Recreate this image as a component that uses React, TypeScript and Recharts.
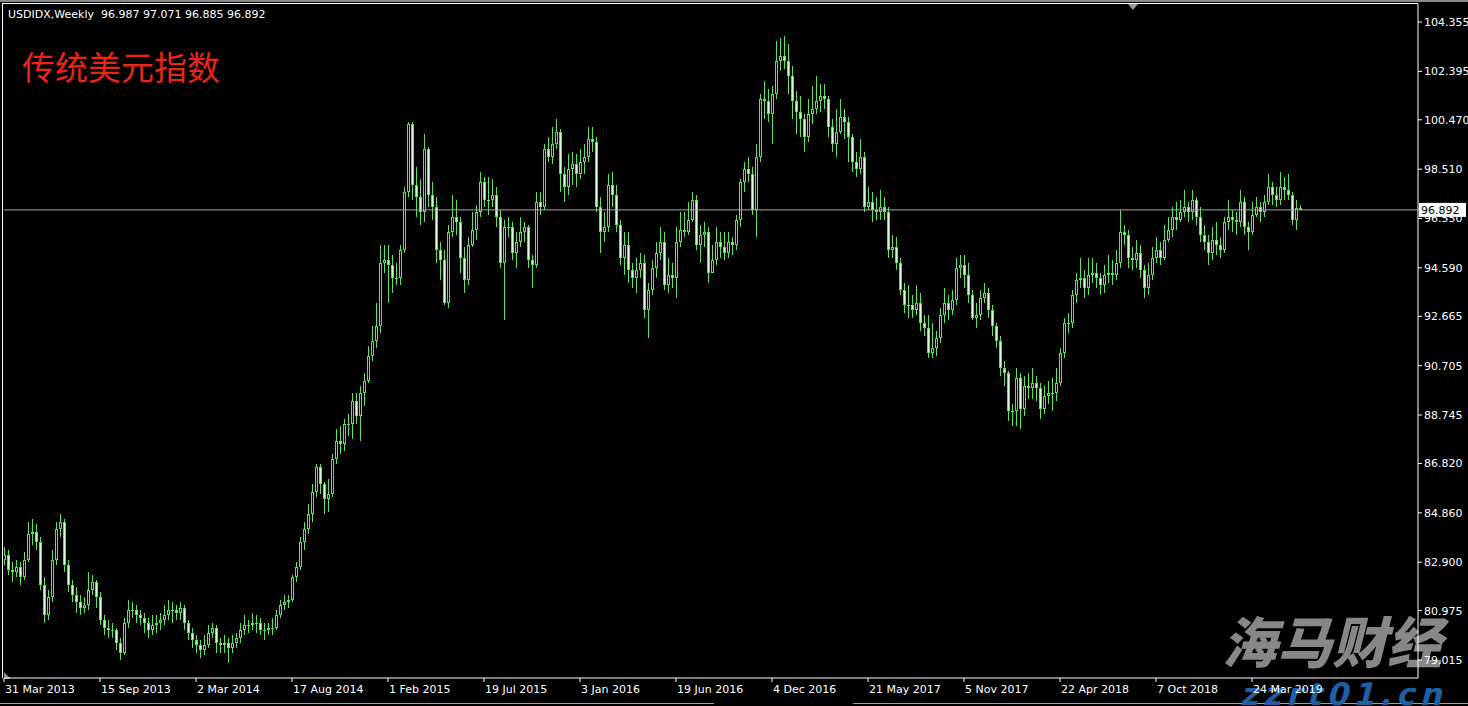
import { Bar, ComposedChart, ReferenceLine, XAxis, YAxis } from "recharts";

// weekly USDIDX candles, 31 Mar 2013 .. Jun 2019
const firstOpen = 83.0;

const closes = [
  83.2, 82.6, 82.5, 82.7, 82.3, 83.0, 84.0, 84.1, 83.7, 82.0,
  80.8, 81.5, 83.0, 84.2, 84.5, 82.8, 82.0, 81.6, 81.3, 81.1,
  81.2, 81.8, 82.1, 81.5, 80.6, 80.3, 80.2, 80.2, 79.7, 79.3,
  80.5, 81.0, 81.0, 80.8, 80.7, 80.5, 80.2, 80.4, 80.5, 80.6,
  80.8, 81.0, 81.0, 80.9, 81.1, 80.5, 80.1, 79.8, 79.6, 79.4,
  79.6, 80.1, 80.3, 79.7, 79.6, 79.7, 79.5, 79.7, 79.9, 80.2,
  80.4, 80.4, 80.5, 80.5, 80.2, 80.2, 80.3, 80.3, 80.8, 81.2,
  81.3, 81.4, 82.3, 82.7, 83.7, 84.2, 84.8, 85.7, 86.7, 86.0,
  85.4, 85.6, 87.0, 87.7, 87.6, 88.4, 88.4, 89.3, 88.7, 89.6,
  90.1, 91.1, 91.7, 92.3, 94.8, 94.9, 94.7, 94.2, 94.2, 95.3,
  97.6, 100.3, 97.9, 97.4, 96.8, 99.3, 97.5, 97.0, 95.3, 94.9,
  93.2, 96.0, 96.6, 96.4, 95.0, 94.1, 95.5, 96.1, 96.8, 98.0,
  97.3, 97.3, 97.5, 96.6, 94.8, 96.2, 96.2, 95.2, 95.6, 96.0,
  96.2, 94.9, 94.7, 97.2, 97.0, 99.3, 99.0, 99.5, 100.0, 98.3,
  97.8, 98.5, 98.7, 98.3, 98.8, 99.0, 99.7, 99.6, 97.0, 96.0,
  96.2, 97.9, 97.5, 96.3, 95.0, 95.5, 94.5, 94.2, 94.5, 94.8,
  92.9, 93.7, 94.6, 95.2, 95.6, 93.9, 94.3, 94.2, 95.6, 96.1,
  96.0, 96.5, 97.3, 95.5, 95.9, 96.0, 94.4, 94.9, 95.6, 95.4,
  95.2, 95.6, 95.5, 96.5, 98.0, 98.5, 98.3, 96.9, 99.0, 101.3,
  101.2, 100.7, 101.5, 102.8, 103.0, 102.8, 102.2, 101.2, 100.8, 100.5,
  99.8, 100.7, 100.9, 101.2, 101.4, 101.3, 100.2, 99.5, 100.0, 100.6,
  100.4, 99.8, 98.8, 98.5, 99.0, 97.0, 97.2, 96.9, 96.8, 97.0,
  96.8, 95.3, 95.4, 94.8, 93.7, 93.1, 93.1, 92.9, 93.2, 92.4,
  92.2, 91.2, 91.4, 91.8, 92.7, 93.2, 92.9, 93.3, 94.6, 94.7,
  94.3, 93.5, 92.6, 92.7, 93.4, 93.6, 92.9, 92.3, 91.7, 90.6,
  90.4, 88.9, 88.9, 90.2, 89.0, 89.9, 89.8, 90.0, 89.8, 89.0,
  89.5, 89.6, 89.6, 90.0, 91.2, 92.4, 92.4, 93.5, 94.1, 94.2,
  93.8, 94.3, 94.4, 94.2, 93.9, 94.3, 94.4, 94.3, 94.8, 96.0,
  95.9, 95.0, 94.9, 95.2, 94.5, 93.8, 94.3, 95.0, 95.3, 95.0,
  95.7, 96.1, 96.6, 96.5, 96.8, 97.0, 96.8, 97.3, 96.6, 95.9,
  95.6, 95.2, 95.7, 95.5, 95.3, 96.4, 96.6, 96.5, 96.4, 97.2,
  96.2, 96.0, 96.7, 97.0, 96.8, 97.2, 97.8, 97.5, 97.3, 97.8,
  97.7, 97.5, 96.5, 96.987, 96.892,
];

const highs = [
  83.5, 83.4, 82.9, 83.0, 82.9, 83.3, 84.5, 84.6, 84.4, 83.9,
  82.3, 81.8, 83.4, 84.5, 84.8, 84.6, 83.0, 82.2, 81.9, 81.6,
  81.5, 82.5, 82.4, 82.2, 81.7, 80.8, 80.6, 80.5, 80.3, 79.9,
  80.7, 81.4, 81.3, 81.2, 81.0, 80.9, 80.7, 80.8, 80.8, 80.9,
  81.2, 81.4, 81.3, 81.2, 81.3, 81.2, 80.6, 80.3, 80.0, 79.8,
  80.0, 80.4, 80.5, 80.4, 79.9, 80.0, 79.9, 80.0, 80.1, 80.5,
  80.8, 80.6, 80.9, 80.8, 80.7, 80.5, 80.5, 80.7, 81.0, 81.4,
  81.6, 81.6, 82.4, 82.9, 83.9, 84.5, 85.2, 86.0, 86.8, 86.8,
  86.1, 86.2, 87.2, 88.2, 88.3, 88.6, 88.8, 89.6, 89.6, 89.9,
  90.4, 91.5, 92.3, 93.2, 95.5, 95.5, 95.5, 95.1, 94.8, 95.5,
  97.8, 100.4, 100.4, 98.6, 98.1, 99.9, 99.4, 98.0, 97.4, 95.6,
  95.3, 96.3, 97.5, 97.3, 96.6, 95.4, 95.8, 96.8, 97.1, 98.4,
  98.2, 98.2, 98.1, 97.8, 96.9, 96.5, 96.6, 96.4, 96.0, 96.6,
  96.4, 96.3, 95.1, 97.6, 97.6, 99.5, 99.8, 100.2, 100.5, 100.1,
  98.6, 99.1, 99.2, 99.1, 99.3, 99.5, 100.2, 100.2, 99.8, 97.4,
  96.8, 98.3, 98.4, 97.9, 96.5, 96.0, 96.0, 94.8, 95.0, 95.2,
  95.1, 94.0, 94.9, 95.6, 96.2, 96.0, 95.0, 94.8, 96.2, 96.8,
  96.8, 97.2, 97.6, 97.5, 96.3, 96.4, 96.2, 95.5, 96.2, 96.0,
  96.0, 96.0, 95.8, 96.7, 98.1, 98.8, 99.0, 98.6, 99.5, 101.5,
  102.0, 101.7, 101.8, 103.6, 103.7, 103.8, 103.5, 102.6, 101.6, 101.4,
  100.7, 101.3, 101.8, 102.2, 101.9, 101.9, 101.4, 100.5, 100.9, 101.3,
  100.9, 100.6, 99.9, 99.2, 99.7, 99.2, 97.8, 97.6, 97.4, 97.7,
  97.4, 97.0, 95.9, 95.8, 95.0, 94.0, 93.9, 93.5, 93.9, 93.6,
  92.7, 92.7, 92.4, 92.1, 93.0, 93.8, 93.5, 93.7, 95.0, 95.1,
  95.1, 94.8, 93.7, 93.2, 93.7, 94.0, 93.8, 93.1, 92.4, 91.9,
  90.9, 90.5, 89.2, 90.6, 90.4, 90.3, 90.4, 90.6, 90.3, 90.0,
  89.9, 90.1, 90.2, 90.6, 91.4, 92.6, 92.8, 93.7, 94.4, 95.0,
  94.5, 95.0, 95.0, 94.8, 94.4, 94.7, 95.1, 94.9, 95.3, 96.9,
  96.3, 96.1, 95.4, 95.7, 95.5, 94.7, 94.8, 95.4, 95.8, 95.6,
  96.3, 96.6, 97.0, 97.2, 97.3, 97.7, 97.2, 97.7, 97.4, 97.0,
  96.3, 95.9, 96.2, 96.4, 95.8, 96.6, 97.3, 96.9, 96.8, 97.7,
  97.4, 96.4, 97.2, 97.4, 97.2, 97.5, 98.3, 98.0, 97.8, 98.4,
  98.2, 98.3, 97.6, 97.3, 97.071,
];

const lows = [
  82.8, 82.4, 82.1, 82.3, 82.0, 82.2, 82.9, 83.6, 83.4, 81.8,
  80.5, 80.6, 81.3, 82.8, 83.9, 82.5, 81.7, 81.3, 80.9, 80.8,
  80.9, 81.0, 81.6, 81.1, 80.4, 80.0, 79.9, 79.9, 79.4, 79.0,
  79.2, 80.3, 80.7, 80.5, 80.4, 80.1, 79.9, 80.0, 80.1, 80.2,
  80.4, 80.6, 80.5, 80.6, 80.6, 80.2, 79.8, 79.5, 79.3, 79.1,
  79.2, 79.5, 79.9, 79.3, 79.3, 79.3, 78.9, 79.3, 79.5, 79.7,
  80.0, 80.1, 80.2, 80.1, 80.0, 79.8, 80.0, 80.0, 80.2, 80.7,
  81.0, 81.1, 81.3, 82.1, 82.6, 83.4, 84.0, 84.5, 85.5, 85.6,
  84.8, 84.9, 85.5, 86.8, 87.2, 87.3, 87.9, 87.8, 88.4, 87.7,
  89.1, 90.0, 90.9, 91.4, 92.0, 94.4, 93.2, 93.6, 93.9, 93.9,
  95.2, 97.4, 97.3, 96.6, 96.3, 96.4, 97.0, 96.5, 94.8, 94.1,
  93.1, 93.0, 95.8, 95.9, 94.4, 93.6, 93.9, 95.4, 95.7, 96.6,
  97.0, 96.7, 97.0, 96.2, 94.6, 92.5, 95.8, 94.9, 94.6, 95.4,
  95.6, 94.6, 93.8, 94.6, 96.7, 96.9, 98.8, 98.7, 99.3, 97.6,
  97.2, 97.5, 97.9, 97.8, 98.1, 98.3, 98.8, 99.2, 96.8, 95.2,
  95.6, 96.0, 97.0, 96.0, 94.7, 94.3, 94.0, 93.8, 93.6, 94.2,
  92.6, 91.8, 93.5, 94.2, 94.9, 93.7, 93.6, 93.8, 93.4, 95.4,
  95.8, 95.9, 96.4, 95.3, 94.8, 95.4, 94.0, 94.4, 94.7, 95.0,
  94.9, 95.0, 95.1, 95.3, 96.2, 97.6, 98.0, 96.7, 95.8, 98.8,
  100.5, 100.4, 99.5, 101.3, 102.4, 102.5, 101.5, 100.5, 99.9, 99.8,
  99.2, 99.6, 100.3, 100.7, 100.8, 100.9, 99.8, 99.2, 99.0, 99.9,
  99.7, 98.8, 98.4, 98.2, 98.3, 96.8, 96.9, 96.4, 96.5, 96.5,
  96.5, 95.0, 95.0, 94.5, 93.5, 92.8, 92.6, 92.6, 92.7, 92.1,
  91.9, 91.0, 91.0, 91.1, 91.6, 92.4, 92.5, 92.7, 93.1, 94.2,
  93.8, 93.2, 92.5, 92.2, 92.5, 93.2, 92.6, 91.9, 91.4, 90.3,
  89.9, 88.5, 88.3, 88.3, 88.2, 88.7, 89.4, 89.4, 89.3, 88.6,
  88.8, 89.2, 88.9, 89.3, 89.9, 91.0, 92.0, 92.2, 93.2, 93.8,
  93.4, 93.5, 94.0, 93.8, 93.5, 93.6, 94.0, 93.9, 94.1, 94.6,
  95.5, 94.6, 94.5, 94.6, 94.2, 93.4, 93.5, 94.1, 94.8, 94.7,
  94.9, 95.6, 95.8, 96.1, 96.4, 96.6, 96.4, 96.5, 96.3, 95.6,
  95.3, 94.7, 94.9, 95.1, 95.0, 95.2, 96.1, 96.0, 95.9, 96.2,
  95.9, 95.3, 95.9, 96.6, 96.4, 96.6, 97.1, 97.1, 97.0, 97.1,
  97.3, 97.3, 96.3, 96.1, 96.885,
];

// one date label every 24 weeks
const dateLabels = [
  "31 Mar 2013", "15 Sep 2013", "2 Mar 2014", "17 Aug 2014", "1 Feb 2015",
  "19 Jul 2015", "3 Jan 2016", "19 Jun 2016", "4 Dec 2016", "21 May 2017",
  "5 Nov 2017", "22 Apr 2018", "7 Oct 2018", "24 Mar 2019",
];
const dateTicks = dateLabels.map((_, k) => k * 24);

const priceTicks = [
  79.015, 80.975, 82.9, 84.86, 86.82, 88.745, 90.705, 92.665, 94.59, 96.55,
  98.51, 100.47, 102.395, 104.355,
];

const lastPrice = 96.892;
const header = "USDIDX,Weekly  96.987 97.071 96.885 96.892";

const data = closes.map((close, i) => ({
  i,
  open: i === 0 ? firstOpen : closes[i - 1],
  high: highs[i],
  low: lows[i],
  close,
}));

const GREEN = "#5fe05f";
const FONT = "DejaVu Sans, Verdana, sans-serif";

function Candle(props: any) {
  const { x, y, width, height, payload } = props;
  if (!payload || x == null || y == null) return null;
  const { open, close, high, low } = payload;
  const top = Math.min(y, y + height);
  const h = Math.abs(height);
  const py = (v: number) => top + ((high - v) / (high - low || 1)) * h;
  const cx = Math.round(x + width / 2) + 0.5;
  const b1 = Math.round(Math.min(py(open), py(close)));
  const b2 = Math.round(Math.max(py(open), py(close)));
  const bh = Math.max(1, b2 - b1);
  const bull = close >= open;
  return (
    <g shapeRendering="crispEdges">
      <line x1={cx} y1={top} x2={cx} y2={top + h} stroke={GREEN} strokeWidth={1} />
      <rect x={cx - 1.5} y={b1} width={3} height={bh} fill={GREEN} />
      {bh > 2 && (
        <rect
          x={cx - 0.5}
          y={b1 + 1}
          width={1}
          height={bh - 2}
          fill={bull ? "#000000" : "#d6fbd6"}
        />
      )}
    </g>
  );
}

function DateTick(props: any) {
  const { x, y, payload } = props;
  const label = dateLabels[Math.round(payload.value / 24)] ?? "";
  return (
    <text x={x + 1} y={y} dy="0.71em" fill="#ffffff" fontSize={11} fontFamily={FONT} textAnchor="start">
      {label}
    </text>
  );
}

function PriceTag(props: any) {
  const vb = props.viewBox;
  if (!vb) return null;
  const x = vb.x + vb.width + 1;
  const y = vb.y;
  return (
    <g>
      <rect x={x} y={y - 7} width={47} height={14} fill="#ffffff" />
      <text x={x + 2} y={y} dy="0.36em" fill="#000000" fontSize={11} fontFamily={FONT}>
        {lastPrice.toFixed(3)}
      </text>
    </g>
  );
}

export default function App() {
  return (
    <div
      style={{
        position: "absolute",
        left: 0,
        top: 0,
        width: 1468,
        height: 706,
        background: "#000",
        overflow: "hidden",
        fontFamily: FONT,
      }}
    >
      <svg width={1468} height={706} style={{ position: "absolute", left: 0, top: 0 }}>
        <rect x={0} y={0} width={1468} height={2} fill="#8a8a8a" />
        <line x1={2} y1={3.5} x2={1418} y2={3.5} stroke="#ffffff" strokeWidth={1} />
        <line x1={2.5} y1={3} x2={2.5} y2={678} stroke="#ffffff" strokeWidth={1} />
        <polygon points="1128,4 1138,4 1133,10" fill="#9a9a9a" />
        <polygon points="4,672 4,679 11,679" fill="#8a8a8a" />
        <line x1={0} y1={703.5} x2={714} y2={703.5} stroke="#a0a0a0" strokeWidth={1} />
        <line x1={853} y1={703.5} x2={1468} y2={703.5} stroke="#a0a0a0" strokeWidth={1} />
        <text x={8} y={18} fill="#ffffff" fontSize={11} fontFamily={FONT} style={{ whiteSpace: "pre" }}>
          {header}
        </text>
        <text x={22} y={80} fill="#e8261a" fontSize={33} fontFamily="Noto Sans CJK SC">
          传统美元指数
        </text>
        <g transform="translate(1222, 663) skewX(-14)">
          <text x={0} y={0} fill="#878787" fontSize={55} fontWeight={900} fontFamily="Noto Sans CJK SC">
            海马财经
          </text>
        </g>
        <g transform="translate(1240, 705) skewX(-14)">
          <text x={0} y={0} fill="#1f5fa6" fontSize={31} fontWeight={700} letterSpacing={5} fontFamily={FONT}>
            zzrt01.cn
          </text>
        </g>
      </svg>
      <div style={{ position: "absolute", left: 0, top: 0 }}>
        <ComposedChart
          width={1468}
          height={706}
          data={data}
          margin={{ top: 4, right: 0, bottom: 0, left: 4 }}
        >
          <XAxis
            dataKey="i"
            type="number"
            domain={[0, 353.5]}
            allowDataOverflow
            ticks={dateTicks}
            interval={0}
            height={28}
            tickSize={4}
            tickMargin={3}
            axisLine={{ stroke: "#ffffff" }}
            tickLine={{ stroke: "#ffffff" }}
            tick={(p: any) => <DateTick {...p} />}
          />
          <YAxis
            orientation="right"
            width={50}
            domain={[78.3, 105.07]}
            allowDataOverflow
            ticks={priceTicks}
            interval={0}
            tickSize={4}
            tickMargin={2}
            axisLine={{ stroke: "#ffffff" }}
            tickLine={{ stroke: "#ffffff" }}
            tick={{ fill: "#ffffff", fontSize: 11, fontFamily: FONT }}
            tickFormatter={(v: number) => v.toFixed(3)}
          />
          <ReferenceLine
            y={lastPrice}
            stroke="#a8a8a8"
            strokeWidth={1}
            label={(p: any) => <PriceTag {...p} />}
          />
          <Bar
            dataKey={(d: any) => [d.low, d.high]}
            barSize={3}
            shape={(p: any) => <Candle {...p} />}
            isAnimationActive={false}
          />
        </ComposedChart>
      </div>
    </div>
  );
}
